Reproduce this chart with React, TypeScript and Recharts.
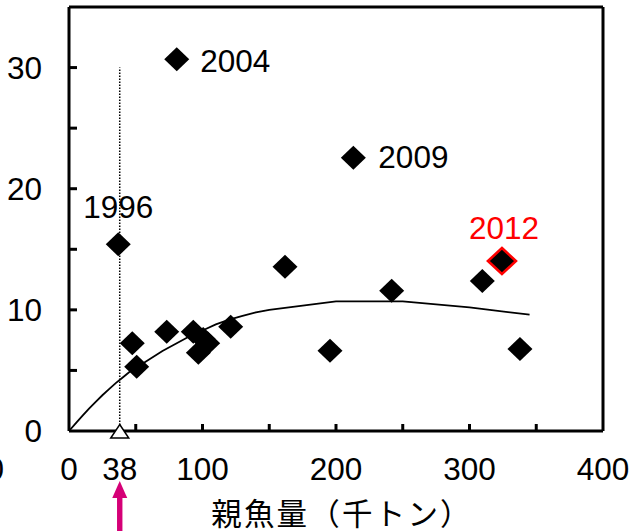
import React from 'react';
import { ScatterChart, Scatter, XAxis, YAxis, ReferenceLine } from 'recharts';

// ---- data ----
const spawners = [36.9, 47.4, 50.7, 73.2, 80.7, 93.1, 96.9, 100.5, 103.9, 121.1, 161.8, 195.5, 213.0, 241.7, 309.6, 337.8];
const recruits = [15.41, 7.24, 5.31, 8.2, 30.68, 8.2, 6.45, 7.6, 7.24, 8.61, 13.56, 6.63, 22.56, 11.58, 12.38, 6.77];
const years = ['1996', '', '', '', '2004', '', '', '', '', '', '', '', '2009', '', '', ''];

const latestYear = '2012';
const latestSpawner = 324.3;
const latestRecruit = 14.03;

const curveS = [0, 5, 10, 15, 20, 25, 30, 35, 40, 45, 50, 60, 70, 80, 90, 100, 110, 120, 130, 140, 150, 200, 250, 300, 345];
const curveR = [0, 0.63, 1.24, 1.84, 2.4, 2.95, 3.45, 3.95, 4.4, 4.85, 5.2, 5.9, 6.6, 7.2, 7.8, 8.3, 8.8, 9.2, 9.5, 9.8, 10.0, 10.7, 10.7, 10.2, 9.6];

const limitSpawner = 38;
const limitLineTop = 30;

const xTicks = [0, 38, 50, 100, 150, 200, 250, 300, 350, 400];
const xLabelled = [0, 38, 100, 200, 300, 400];
const yTicks = [0, 5, 10, 15, 20, 25, 30, 35];
const yLabelled = [0, 10, 20, 30];
const xAxisTitle = '親魚量（千トン）';

// ---- styles ----
const NUM_FONT = "'Liberation Sans', Arial, Helvetica, sans-serif";
const CJK_FONT = "'Noto Sans CJK JP', 'Noto Sans CJK SC', sans-serif";
const FS = 31.5;
const ARROW = '#D50077';
const LABEL_STYLE: Record<string, { dx: number; dy: number; anchor: 'start' | 'middle' | 'end'; color: string }> = {
  '1996': { dx: 0, dy: -26, anchor: 'middle', color: '#000' },
  '2004': { dx: 23.5, dy: 12.4, anchor: 'start', color: '#000' },
  '2009': { dx: 25, dy: 10.5, anchor: 'start', color: '#000' },
  '2012': { dx: 2, dy: -22, anchor: 'middle', color: '#FF0000' },
};

const points = spawners.map((s, i) => ({ x: s, y: recruits[i], year: years[i] }));
const latest = [{ x: latestSpawner, y: latestRecruit, year: latestYear }];
const curve = curveS.map((s, i) => ({ x: s, y: curveR[i] }));
const limitMark = [{ x: limitSpawner, y: 0 }];

const Diamond = (props: any) => {
  const { cx, cy, payload } = props;
  if (cx == null || cy == null) return <g />;
  const w = 12.5;
  const h = 12;
  const st = payload && payload.year ? LABEL_STYLE[payload.year] : null;
  return (
    <g>
      <polygon points={`${cx},${cy - h} ${cx + w},${cy} ${cx},${cy + h} ${cx - w},${cy}`} fill="#000" />
      {st && (
        <text x={cx + st.dx} y={cy + st.dy} textAnchor={st.anchor} fontSize={FS} fontFamily={NUM_FONT} fill={st.color}>
          {payload.year}
        </text>
      )}
    </g>
  );
};

const LatestDiamond = (props: any) => {
  const { cx, cy, payload } = props;
  if (cx == null || cy == null) return <g />;
  const w = 14;
  const h = 13;
  const st = LABEL_STYLE[payload.year];
  return (
    <g>
      <polygon
        points={`${cx},${cy - h} ${cx + w},${cy} ${cx},${cy + h} ${cx - w},${cy}`}
        fill="#000"
        stroke="#FF0000"
        strokeWidth={2.6}
        strokeLinejoin="miter"
      />
      <text x={cx + st.dx} y={cy + st.dy} textAnchor={st.anchor} fontSize={FS} fontFamily={NUM_FONT} fill={st.color}>
        {payload.year}
      </text>
    </g>
  );
};

const Triangle = (props: any) => {
  const { cx, cy } = props;
  if (cx == null || cy == null) return <g />;
  return (
    <polygon
      points={`${cx},${cy - 6.5} ${cx + 9},${cy + 7} ${cx - 9},${cy + 7}`}
      fill="#fff"
      stroke="#000"
      strokeWidth={1.5}
    />
  );
};

const NoDot = () => <g />;

const XTick = (props: any) => {
  const { x, y, payload } = props;
  const v = payload.value;
  const showLine = v > 0 && v < 400 && v !== limitSpawner;
  const showLabel = xLabelled.includes(v);
  return (
    <g>
      {showLine && <line x1={x} x2={x} y1={y} y2={y - 7} stroke="#000" strokeWidth={3} />}
      {showLabel && (
        <text x={x} y={y + 48.5} textAnchor="middle" fontSize={FS} fontFamily={NUM_FONT} fill="#000">
          {v}
        </text>
      )}
      {v === 0 && (
        <text x={x - 65} y={y + 48.5} textAnchor="end" fontSize={FS} fontFamily={NUM_FONT} fill="#000">
          0
        </text>
      )}
      {v === limitSpawner && (
        <g>
          <polygon points={`${x},${y + 50} ${x + 7.5},${y + 67} ${x - 7.5},${y + 67}`} fill={ARROW} />
          <rect x={x - 2.7} y={y + 66} width={5.4} height={40} fill={ARROW} />
        </g>
      )}
    </g>
  );
};

const YTick = (props: any) => {
  const { x, y, payload } = props;
  const v = payload.value;
  const showLine = v > 0 && v < 35;
  const showLabel = yLabelled.includes(v);
  return (
    <g>
      {showLine && <line x1={x} x2={x + 8} y1={y} y2={y} stroke="#000" strokeWidth={3} />}
      {showLabel && (
        <text x={x - 27} y={y} dy="0.36em" textAnchor="end" fontSize={FS} fontFamily={NUM_FONT} fill="#000">
          {v}
        </text>
      )}
    </g>
  );
};

export default function App() {
  return (
    <div style={{ position: 'absolute', left: 0, top: 0, width: 629, height: 531, background: '#fff' }}>
      <ScatterChart width={629} height={531} margin={{ top: 7, right: 26, bottom: 0, left: 0 }}>
        <XAxis
          type="number"
          dataKey="x"
          domain={[0, 400]}
          ticks={xTicks}
          interval={0}
          height={100}
          tickSize={0}
          tickMargin={0}
          tickLine={false}
          axisLine={{ stroke: '#000', strokeWidth: 3 }}
          tick={<XTick />}
          label={{
            value: xAxisTitle,
            position: 'insideBottom',
            offset: 6.5,
            dx: 6,
            style: { fontSize: 30.5, letterSpacing: 2.2, fontFamily: CJK_FONT, fill: '#000' },
          }}
        />
        <YAxis
          type="number"
          dataKey="y"
          domain={[0, 35]}
          ticks={yTicks}
          interval={0}
          width={69}
          tickSize={0}
          tickMargin={0}
          tickLine={false}
          axisLine={{ stroke: '#000', strokeWidth: 3 }}
          tick={<YTick />}
        />
        <ReferenceLine y={35} stroke="#000" strokeWidth={3} />
        <ReferenceLine x={400} stroke="#000" strokeWidth={3} />
        <ReferenceLine
          segment={[
            { x: limitSpawner, y: 0 },
            { x: limitSpawner, y: limitLineTop },
          ]}
          stroke="#000"
          strokeWidth={1.5}
          strokeDasharray="1.5 1.5"
        />
        <Scatter
          data={curve}
          line={{ stroke: '#000', strokeWidth: 1.8 }}
          lineType="joint"
          shape={<NoDot />}
          isAnimationActive={false}
        />
        <Scatter data={points} shape={<Diamond />} isAnimationActive={false} />
        <Scatter data={latest} shape={<LatestDiamond />} isAnimationActive={false} />
        <Scatter data={limitMark} shape={<Triangle />} isAnimationActive={false} />
      </ScatterChart>
    </div>
  );
}
